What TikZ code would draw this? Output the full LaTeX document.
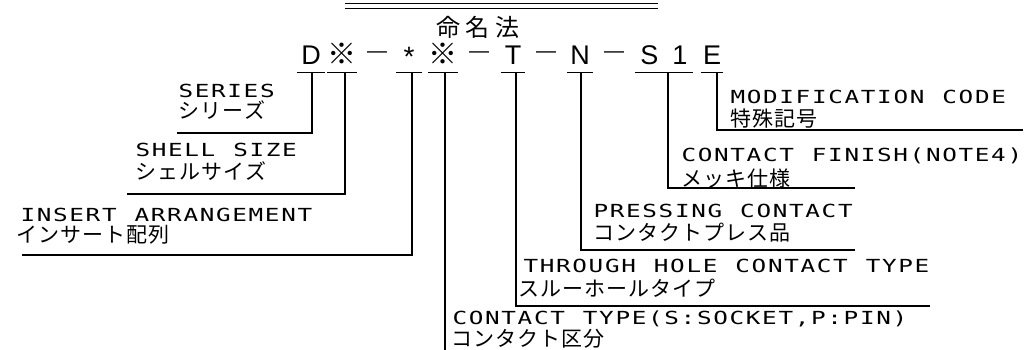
\documentclass[tikz,border=0pt]{standalone}
\usepackage{fontspec}
\newfontfamily\enfamily[FakeStretch=1.35]{DejaVu Sans Mono}
\newfontfamily\jpfamily{Noto Sans CJK JP}
\newfontfamily\codefamily{Liberation Sans}
\ExplSyntaxOn
\dim_new:N \l__rk_pitch_dim
\cs_new_protected:Npn \rktrack #1 #2
 {
   \dim_set:Nn \l__rk_pitch_dim {#1}
   \str_map_inline:nn {#2} { \makebox[\l__rk_pitch_dim][c]{##1} }
 }
\ExplSyntaxOff
\tikzset{
  ln/.style={line width=1.2pt},
  code/.style={anchor=base, inner sep=0pt, text height=20pt, text depth=7pt,
    font=\codefamily\fontsize{27}{30}\selectfont},
  xmark/.style={code, font=\jpfamily\fontsize{29}{32}\selectfont},
  dashc/.style={anchor=base, inner sep=0pt, font=\codefamily\fontsize{20}{24}\selectfont},
  en/.style={anchor=base west, inner sep=0pt, font=\enfamily\fontsize{18}{20}\selectfont},
  jp/.style={anchor=base west, inner sep=0pt, font=\jpfamily\fontsize{21}{23}\selectfont},
  ttlstyle/.style={anchor=base, inner sep=0pt, font=\jpfamily\fontsize{24}{28}\selectfont},
}
\begin{document}
\begin{tikzpicture}[x=1pt,y=-1pt]
\useasboundingbox (0,0) rectangle (1027,350);
\fill[white] (0,0) rectangle (1027,350);

% title
\coordinate (dlA) at (345,3.5);
\coordinate (dlB) at (658,3.5);
\coordinate (dlC) at (345,8.5);
\coordinate (dlD) at (658,8.5);
\draw[ln] (dlA) -- (dlB);
\draw[ln] (dlC) -- (dlD);
\node[ttlstyle] (ttl) at (478,37) {\rktrack{30pt}{命名法}};

% code row
\node[code, minimum width=27pt] (cD) at (311,65) {D};
\node[xmark, minimum width=27pt] (cX1) at (342,65) {※};
\node[dashc] (cm1) at (377,58) {—};
\node[code, minimum width=25pt, text height=14pt, text depth=5pt, font=\codefamily\fontsize{28}{30}\selectfont] (cA) at (409,67) {*};
\node[xmark, minimum width=27pt] (cX2) at (443,65) {※};
\node[dashc] (cm2) at (479,58) {—};
\node[code, minimum width=24pt] (cT) at (513,65) {T};
\node[dashc] (cm3) at (546,58) {—};
\node[code, minimum width=25pt] (cN) at (580,65) {N};
\node[dashc] (cm4) at (614,58) {—};
\node[code, minimum width=58pt] (cS) at (664,65) {S\kern14pt 1};
\node[code, minimum width=22pt] (cE) at (712,65) {E};

\foreach \n in {cD,cX1,cA,cX2,cT,cN,cS,cE}
  \draw[ln] (\n.south west) -- (\n.south east);

% line end coordinates
\coordinate (kSer) at (177,133);
\coordinate (kShe) at (127,194);
\coordinate (kIns) at (22,255);
\coordinate (kCT) at (445,350);
\coordinate (kThr) at (930,306);
\coordinate (kPre) at (855,250);
\coordinate (kFin) at (855,188);
\coordinate (kMod) at (1023,130);

\draw[ln] ([xshift=1pt]cD.south) |- (kSer);
\draw[ln] ([xshift=3pt]cX1.south) |- (kShe);
\draw[ln] ([xshift=3pt]cA.south) |- (kIns);
\draw[ln] ([xshift=2pt]cX2.south) -- (kCT);
\draw[ln] ([xshift=3pt]cT.south) |- (kThr);
\draw[ln] ([xshift=1pt]cN.south) |- (kPre);
\draw[ln] ([xshift=4pt]cS.south) |- (kFin);
\draw[ln] ([xshift=5pt]cE.south) |- (kMod);

% labels
\node[en] (eSer) at (177.5,98) {\rktrack{16.3pt}{SERIES}};
\node[jp] (jSer) at (178,119) {\rktrack{22pt}{シリーズ}};
\node[en] (eShe) at (134.5,156) {\rktrack{16.3pt}{SHELL SIZE}};
\node[jp] (jShe) at (135,179) {\rktrack{22pt}{シェルサイズ}};
\node[en] (eIns) at (19.5,221) {\rktrack{16.3pt}{INSERT ARRANGEMENT}};
\node[jp] (jIns) at (16,242) {\rktrack{22pt}{インサート配列}};
\node[en] (eCT) at (451.5,324) {\rktrack{16.3pt}{CONTACT TYPE(S:SOCKET,P:PIN)}};
\node[jp] (jCT) at (451,346) {\rktrack{22pt}{コンタクト区分}};
\node[en] (eThr) at (522.5,272) {\rktrack{16.3pt}{THROUGH HOLE CONTACT TYPE}};
\node[jp] (jThr) at (518,296) {\rktrack{22pt}{スルーホールタイプ}};
\node[en] (ePre) at (592.5,217) {\rktrack{16.3pt}{PRESSING CONTACT}};
\node[jp] (jPre) at (593,240) {\rktrack{22pt}{コンタクトプレス品}};
\node[en] (eFin) at (680.5,161) {\rktrack{16.3pt}{CONTACT FINISH(NOTE4)}};
\node[jp] (jFin) at (681,186) {\rktrack{22pt}{メッキ仕様}};
\node[en] (eMod) at (729.5,104) {\rktrack{16.3pt}{MODIFICATION CODE}};
\node[jp] (jMod) at (730,126) {\rktrack{22pt}{特殊記号}};
\end{tikzpicture}
\end{document}
